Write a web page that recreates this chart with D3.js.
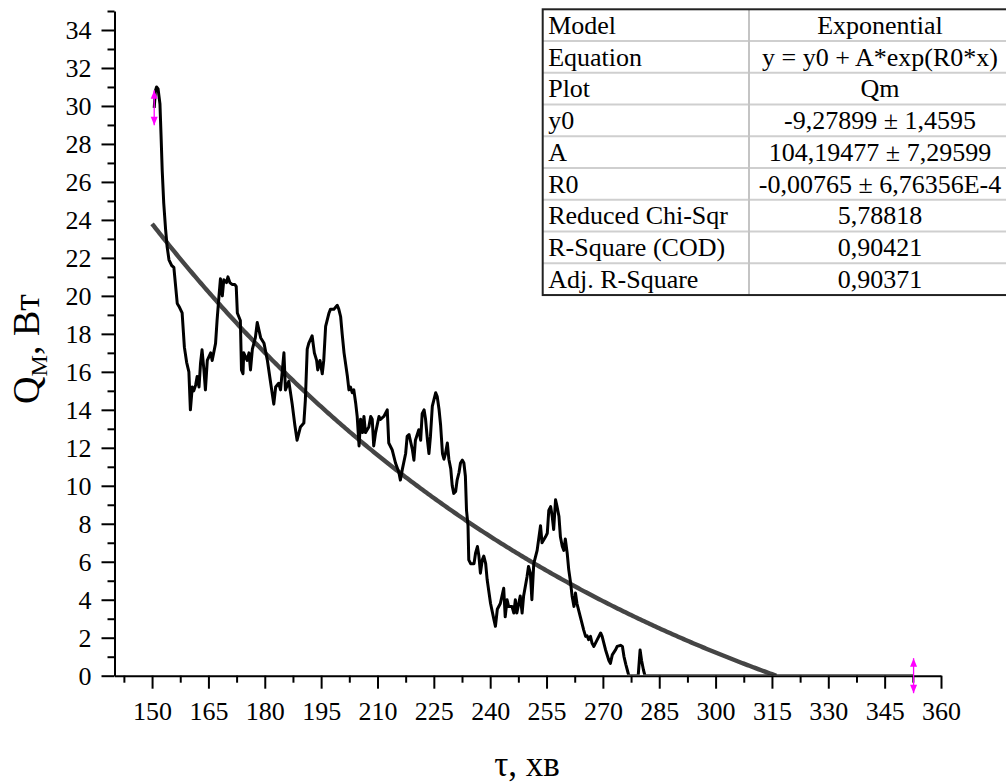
<!DOCTYPE html>
<html>
<head>
<meta charset="utf-8">
<script src="https://cdn.jsdelivr.net/npm/d3@7"></script>
<style>
  html, body { margin: 0; padding: 0; background: #fff; }
  svg { display: block; font-family: "Liberation Serif", "Times New Roman", serif; }
</style>
</head>
<body>
<svg id="chart" width="1006" height="783"></svg>
<script>
// Measured heat flux Qm (W) against time τ (min)
const timeMin = [
  150.57,150.9,151.2,151.6,152.1,152.4,152.7,153.1,153.6,154.0,154.5,155.2,155.8,156.7,157.3,158.0,158.6,159.2,159.8,160.2,
  160.7,161.1,161.6,162.0,162.5,162.9,163.3,163.8,164.2,164.7,165.6,166.0,166.9,167.3,167.8,168.2,168.7,169.1,169.8,170.2,
  170.7,171.3,172.0,172.4,172.7,173.5,173.8,174.2,174.4,175.3,175.8,176.2,176.7,177.5,178.0,178.9,179.8,180.7,181.5,182.4,
  182.9,183.7,184.2,185.1,185.5,186.4,187.3,188.0,188.6,189.5,190.4,190.8,191.3,191.7,192.6,193.2,193.8,194.1,194.7,195.3,
  195.7,196.2,197.1,197.5,198.4,199.3,199.7,200.2,200.6,201.1,202.0,202.4,202.8,203.3,203.7,204.2,204.6,205.1,205.5,206.0,
  206.4,206.8,207.7,208.2,208.6,209.0,209.5,210.4,210.8,211.7,212.6,213.0,213.9,214.8,215.7,216.1,216.6,217.5,217.9,218.4,
  219.3,219.7,220.1,221.0,221.5,221.9,222.4,222.8,223.3,223.7,224.1,224.6,225.5,225.9,226.4,226.8,227.3,227.7,228.1,228.6,
  229.0,229.5,229.9,230.3,230.8,231.2,231.7,232.1,232.6,233.0,233.4,233.7,234.1,234.3,234.8,235.7,236.1,236.6,237.0,237.4,
  237.9,238.3,238.8,239.2,240.1,241.0,241.4,241.9,242.7,243.6,244.0,244.5,244.9,245.8,246.3,246.7,247.1,247.6,248.0,248.5,
  248.9,249.8,250.2,250.7,251.1,251.6,252.5,253.4,253.8,254.7,255.2,255.6,256.1,256.5,256.9,257.4,257.8,258.3,258.7,259.2,
  259.6,260.0,260.5,260.9,261.4,261.8,262.3,262.7,263.1,264.0,264.9,265.4,265.8,266.2,266.7,267.1,267.6,268.5,269.4,269.8,
  270.7,271.6,272.0,272.5,273.4,273.8,274.7,275.2,275.6,276.1,276.5,276.9,279.4,279.9,280.3,280.8,281.2,352.7
];
const powerW = [
  29.9,30.8,31.0,30.9,30.1,28.4,26.6,24.9,23.5,22.6,21.9,21.6,21.5,19.6,19.4,19.1,17.3,16.5,16.0,14.0,
  15.2,15.0,15.3,15.75,15.2,16.46,17.16,16.1,15.05,16.6,17.0,16.6,17.5,18.7,19.96,20.9,20.0,20.85,20.7,21.0,
  20.7,20.6,20.6,20.5,19.1,18.7,16.1,15.9,17.0,16.6,17.0,16.1,17.2,17.8,18.6,17.8,17.5,16.6,15.5,14.3,
  15.2,15.4,15.05,17.0,15.05,15.5,14.3,13.2,12.4,13.1,13.3,14.5,17.2,17.5,17.9,17.0,16.6,16.1,16.6,15.9,
  16.6,18.4,19.1,19.3,19.3,19.5,19.3,18.9,18.0,17.0,15.75,15.05,15.2,14.9,15.05,14.35,13.65,12.1,13.5,12.8,
  13.65,12.8,13.1,13.65,13.5,12.1,12.8,13.65,13.5,13.65,14.0,12.25,11.9,11.2,10.7,10.3,10.85,11.7,12.6,12.7,
  11.9,11.35,12.4,12.95,12.4,13.8,14.0,13.5,12.4,11.7,12.6,14.2,14.9,14.7,14.0,13.2,11.7,11.4,11.7,12.25,
  11.4,10.9,10.0,9.6,9.7,10.3,10.7,11.2,11.35,11.2,10.5,8.7,7.9,6.1,5.9,5.9,6.45,6.8,6.3,5.4,
  6.1,6.3,5.9,5.05,3.8,2.95,2.6,3.5,3.8,4.6,3.1,4.0,3.65,3.65,3.3,4.0,3.3,3.8,4.2,3.3,
  4.2,5.2,5.75,5.4,4.0,5.9,6.6,7.9,7.0,7.3,7.5,8.7,8.9,8.4,7.7,9.26,8.9,8.4,7.3,6.8,
  6.6,7.2,6.45,5.6,4.9,4.2,3.65,4.35,3.8,3.1,2.4,2.07,2.1,1.9,2.07,1.72,1.54,1.9,2.25,2.07,
  1.37,0.8,0.65,1.1,1.37,1.54,1.6,1.54,1.02,0.6,0.3,0,0,1.35,0.8,0.3,0,0
];

// Exponential fit y = y0 + A*exp(R0*x)
const fitParamNames = ["y0", "A", "R0"];
const fitParamValues = [-9.27899, 104.19477, -0.00765];
const fitStart = 150;

// Data-range markers (first and last data point)
const markerTime = [150.57, 352.7];
const markerPower = [29.9, 0];

// Axis ticks
const xMajorTicks = [150, 165, 180, 195, 210, 225, 240, 255, 270, 285, 300, 315, 330, 345, 360];
const xMinorTicks = [142.5, 157.5, 172.5, 187.5, 202.5, 217.5, 232.5, 247.5, 262.5, 277.5, 292.5, 307.5, 322.5, 337.5, 352.5];
const yMajorTicks = [0, 2, 4, 6, 8, 10, 12, 14, 16, 18, 20, 22, 24, 26, 28, 30, 32, 34];
const yMinorTicks = [1, 3, 5, 7, 9, 11, 13, 15, 17, 19, 21, 23, 25, 27, 29, 31, 33, 35];

// Fit report table
const tableLabels = ["Model", "Equation", "Plot", "y0", "A", "R0", "Reduced Chi-Sqr", "R-Square (COD)", "Adj. R-Square"];
const tableValues = ["Exponential", "y = y0 + A*exp(R0*x)", "Qm", "-9,27899 ± 1,4595", "104,19477 ± 7,29599",
                     "-0,00765 ± 6,76356E-4", "5,78818", "0,90421", "0,90371"];

const svg = d3.select("#chart");
const plot = { left: 114.5, right: 941, top: 11, bottom: 675.7 };

const x = d3.scaleLinear().domain([140, 360]).range([plot.left, plot.right]);
const y = d3.scaleLinear().domain([0, 35]).range([plot.bottom, plot.top]);

// Clip so that a trace lying on zero hides under the x axis line
svg.append("defs").append("clipPath").attr("id", "plotClip")
  .append("rect")
  .attr("x", plot.left).attr("y", plot.top - 2)
  .attr("width", plot.right - plot.left + 2).attr("height", plot.bottom - plot.top + 1);

// Fit curve
const [y0, A, R0] = fitParamValues;
const fitEnd = Math.log(-y0 / A) / R0;
const fitX = d3.range(fitStart, fitEnd, 0.5).concat([fitEnd]);
const fitLine = d3.line().x(d => x(d)).y(d => y(y0 + A * Math.exp(R0 * d)));
svg.append("path")
  .attr("clip-path", "url(#plotClip)")
  .attr("d", fitLine(fitX))
  .attr("fill", "none")
  .attr("stroke", "#454545")
  .attr("stroke-width", 4.4);

// Measured series
const series = timeMin.map((t, i) => [t, powerW[i]]);
const dataLine = d3.line().x(d => x(d[0])).y(d => y(d[1]));
svg.append("path")
  .attr("clip-path", "url(#plotClip)")
  .attr("d", dataLine(series))
  .attr("fill", "none")
  .attr("stroke", "#000")
  .attr("stroke-width", 3)
  .attr("stroke-linejoin", "round");

// Axes
const axisFont = 26;
const xAxis = svg.append("g").attr("transform", `translate(0,${plot.bottom})`)
  .call(d3.axisBottom(x).tickValues(xMajorTicks).tickSize(13).tickSizeOuter(0).tickPadding(13).tickFormat(d3.format("d")));
const xMinor = svg.append("g").attr("transform", `translate(0,${plot.bottom})`)
  .call(d3.axisBottom(x).tickValues(xMinorTicks).tickSize(7).tickSizeOuter(0).tickFormat(""));
const yAxis = svg.append("g").attr("transform", `translate(${plot.left},0)`)
  .call(d3.axisLeft(y).tickValues(yMajorTicks).tickSize(13).tickSizeOuter(0).tickPadding(10).tickFormat(d3.format("d")));
const yMinor = svg.append("g").attr("transform", `translate(${plot.left},0)`)
  .call(d3.axisLeft(y).tickValues(yMinorTicks).tickSize(7).tickSizeOuter(0).tickFormat(""));

[xAxis, xMinor, yAxis, yMinor].forEach(g => {
  g.selectAll("path, line").attr("stroke", "#000").attr("stroke-width", 2);
  g.selectAll("text").attr("fill", "#000").style("font-family", "Liberation Serif, serif").style("font-size", axisFont + "px");
});
xMinor.select(".domain").remove();
yMinor.select(".domain").remove();

// Range markers
const markerGroup = svg.append("g").attr("fill", "#ff00ff").attr("stroke", "#ff00ff");
markerTime.forEach((t, i) => {
  const cx = x(t), cy = y(markerPower[i]);
  const h = 17.5, head = 8.5, hw = 3.5;
  markerGroup.append("line")
    .attr("x1", cx).attr("x2", cx).attr("y1", cy - h).attr("y2", cy + h)
    .attr("stroke-width", 1.3);
  markerGroup.append("path")
    .attr("stroke", "none")
    .attr("d", `M${cx},${cy - h}L${cx - hw},${cy - h + head}L${cx + hw},${cy - h + head}Z` +
               `M${cx},${cy + h}L${cx - hw},${cy + h - head}L${cx + hw},${cy + h - head}Z`);
});

// Axis titles
const yTitle = svg.append("text")
  .attr("transform", `translate(39,349) rotate(-90)`)
  .attr("text-anchor", "middle")
  .style("font-size", "38px")
  .attr("fill", "#000");
yTitle.append("tspan").text("Q");
yTitle.append("tspan").attr("dy", 8).style("font-size", "24px").text("М");
yTitle.append("tspan").attr("dy", -8).text(", Вт");

svg.append("text")
  .attr("x", 527).attr("y", 776)
  .attr("text-anchor", "middle")
  .style("font-size", "35px")
  .attr("fill", "#000")
  .text("τ, хв");

// Fit report table
const table = { left: 542.7, top: 9.3, split: 749, right: 1011, rowH: 31.75 };
const rowY = d3.scaleLinear().domain([0, tableLabels.length]).range([table.top, table.top + table.rowH * tableLabels.length]);
const tg = svg.append("g");
tg.append("rect")
  .attr("x", table.left).attr("y", table.top)
  .attr("width", table.right - table.left).attr("height", rowY(tableLabels.length) - table.top)
  .attr("fill", "#fff");
tg.selectAll("line.row").data(d3.range(1, tableLabels.length)).join("line")
  .attr("class", "row")
  .attr("x1", table.left).attr("x2", table.right)
  .attr("y1", d => rowY(d)).attr("y2", d => rowY(d))
  .attr("stroke", "#cfcfcf").attr("stroke-width", 2);
tg.append("line")
  .attr("x1", table.split).attr("x2", table.split)
  .attr("y1", table.top).attr("y2", rowY(tableLabels.length))
  .attr("stroke", "#c4c4c4").attr("stroke-width", 2);
tg.append("rect")
  .attr("x", table.left).attr("y", table.top)
  .attr("width", table.right - table.left).attr("height", rowY(tableLabels.length) - table.top)
  .attr("fill", "none").attr("stroke", "#222").attr("stroke-width", 2);
tg.selectAll("text.lab").data(tableLabels).join("text")
  .attr("class", "lab")
  .attr("x", table.left + 5.5)
  .attr("y", (d, i) => rowY(i) + 24.5)
  .style("font-size", "26px")
  .attr("fill", "#000")
  .text(d => d);
tg.selectAll("text.val").data(tableValues).join("text")
  .attr("class", "val")
  .attr("x", (table.split + table.right) / 2)
  .attr("y", (d, i) => rowY(i) + 24.5)
  .attr("text-anchor", "middle")
  .style("font-size", "26px")
  .attr("fill", "#000")
  .text(d => d);
</script>
</body>
</html>
